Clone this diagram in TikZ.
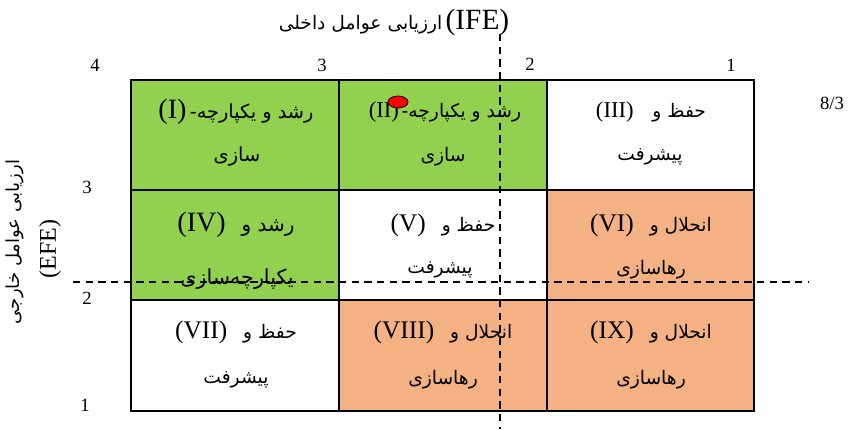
\documentclass[tikz,border=0pt]{standalone}
\usepackage{fontspec}
\usetikzlibrary{shapes.geometric}
\setmainfont{Liberation Serif}
\newfontfamily\fa[Script=Arabic]{DejaVu Sans}
\TeXXeTstate=1
\definecolor{cgreen}{HTML}{92D050}
\definecolor{corange}{HTML}{F4B183}
\newcommand{\fat}[2][14]{{\fa\fontsize{#1}{16}\selectfont\beginR #2\endR}}
\newcommand{\lat}[2][19]{{\fontsize{#1}{20}\selectfont #2}}
\begin{document}
\begin{tikzpicture}[x=0.75pt,y=-0.75pt,
  gridline/.style={line width=1.4pt,black},
  dashline/.style={line width=0.9pt,dash pattern=on 5.5pt off 4pt},
  lbl/.style={inner sep=0pt,anchor=center},
  num/.style={inner sep=0pt,font=\fontsize{14}{16}\selectfont}]
\useasboundingbox (0,0) rectangle (848,429);
% cells fill
\fill[cgreen] (131,80) rectangle (339,190);
\fill[cgreen] (339,80) rectangle (547,190);
\fill[white] (547,80) rectangle (754,190);
\fill[cgreen] (131,190) rectangle (339,300);
\fill[white] (339,190) rectangle (547,300);
\fill[corange] (547,190) rectangle (754,300);
\fill[white] (131,300) rectangle (339,411);
\fill[corange] (339,300) rectangle (547,411);
\fill[corange] (547,300) rectangle (754,411);
% grid
\draw[gridline] (131,80) rectangle (754,411);
\draw[gridline] (339,80) -- (339,411);
\draw[gridline] (547,80) -- (547,411);
\draw[gridline] (131,190) -- (754,190);
\draw[gridline] (131,300) -- (754,300);
% cell texts
\node[lbl] (t1a) at (236,112) {\lat[21]{(I)} \fat[14.5]{رشد و یکپارچه-}};
\node[lbl] (t1b) at (237,157) {\fat[14.5]{سازی}};
\node[lbl] (t2a) at (445,112) {\lat[17]{(II)}\hspace{2pt}\fat{رشد و یکپارچه-}};
\node[lbl] (t2b) at (443,157) {\fat{سازی}};
\node[lbl] (t3a) at (651,112) {\lat[17]{(III)}\hspace{14pt}\fat{حفظ و}};
\node[lbl] (t3b) at (650,157) {\fat{پیشرفت}};
\node[lbl] (t4a) at (236,225) {\lat[21]{(IV)}\hspace{12pt}\fat[15]{رشد و}};
\node[lbl] (t4b) at (237,279) {\fat[15.5]{یکپارچه‌سازی}};
\node[lbl] (t5a) at (443,225) {\lat{(V)}\hspace{12pt}\fat{حفظ و}};
\node[lbl] (t5b) at (440,270) {\fat{پیشرفت}};
\node[lbl] (t6a) at (651,225) {\lat{(VI)}\hspace{12pt}\fat{انحلال و}};
\node[lbl] (t6b) at (651,270) {\fat{رهاسازی}};
\node[lbl] (t7a) at (236,332) {\lat{(VII)}\hspace{12pt}\fat{حفظ و}};
\node[lbl] (t7b) at (236,380) {\fat{پیشرفت}};
\node[lbl] (t8a) at (443,332) {\lat{(VIII)}\hspace{12pt}\fat{انحلال و}};
\node[lbl] (t8b) at (443,380) {\fat{رهاسازی}};
\node[lbl] (t9a) at (651,332) {\lat{(IX)}\hspace{12pt}\fat{انحلال و}};
\node[lbl] (t9b) at (651,380) {\fat{رهاسازی}};
% red dot
\node[ellipse,draw=black,line width=0.6pt,fill=red,minimum width=15pt,minimum height=9pt,inner sep=0pt] (dot) at (398,102) {};
% dashed lines
\coordinate (vt) at (500,34);
\coordinate (vb) at (500,429);
\coordinate (hl) at (73,282);
\coordinate (hr) at (808,282);
\draw[dashline] (vt) -- (vb);
\draw[dashline] (hl) -- (hr);
% axis numbers
\node[num] (n4) at (95,65) {4};
\node[num] (n3) at (322,65) {3};
\node[num] (n2) at (530,64) {2};
\node[num] (n1) at (731,65) {1};
\node[num] (n83) at (832,103) {8/3};
\node[num] (m3) at (87,187) {3};
\node[num] (m2) at (87,298) {2};
\node[num] (m1) at (85,405) {1};
% titles
\node[lbl] (title) at (394,22) {\fat{ارزیابی عوامل داخلی} \lat[22]{(IFE)}};
\node[lbl,rotate=90] (ltitle) at (15,242) {\fat[13.5]{ارزیابی عوامل خارجی}};
\node[lbl,rotate=90] (lefe) at (50,249) {\lat[18]{(EFE)}};
\end{tikzpicture}
\end{document}
